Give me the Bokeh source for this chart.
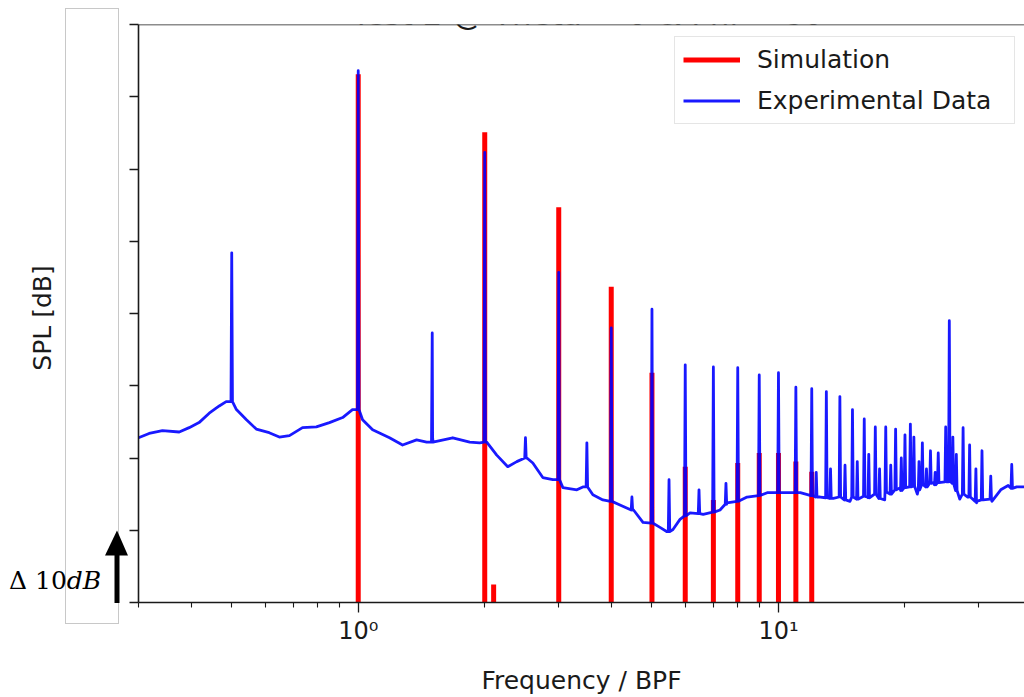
import math
from bokeh.plotting import figure
from bokeh.layouts import row
from bokeh.models import (Range1d, FixedTicker, CustomJSTickFormatter, Label, Span, Legend,
                          LegendItem, Div)
from bokeh.embed import file_html
from bokeh.resources import INLINE

title_text = "Test 2 @ Theta = 0 & Phi = 80"
x_label = "Frequency / BPF"
y_label = "SPL [dB]"
delta_text = "Δ 10"
delta_unit = "dB"
delta_db = 10

exp_base_f = [0.30, 0.318, 0.342, 0.375, 0.396, 0.418, 0.442, 0.467, 0.485, 0.513, 0.542,
              0.572, 0.614, 0.649, 0.686, 0.737, 0.795, 0.854, 0.918, 0.969, 1.024, 1.082,
              1.187, 1.275, 1.377, 1.455, 1.503, 1.678, 1.842, 1.946, 2.022, 2.136, 2.269,
              2.384, 2.52, 2.603, 2.749, 2.905, 3.069, 3.314, 3.424, 3.617, 3.821, 4.196,
              4.52, 4.76, 5.225, 5.43, 5.61, 5.83, 6.16, 6.62, 7.26, 7.54, 8.42, 9.40,
              10.49, 11.27, 12.57, 13.50, 14.8, 16.27, 17.9, 19.5, 21.4, 23.4, 25.7,
              27.0, 28.2, 29.6, 30.7, 32.2, 33.8, 35.2, 36.9, 38.5]
exp_base_db = [62.8, 63.4, 63.8, 63.6, 64.2, 64.9, 66.2, 67.2, 67.8, 66.7, 65.3,
               64.0, 63.5, 62.9, 63.1, 64.2, 64.3, 64.9, 65.6, 66.7, 65.3, 63.9,
               62.8, 61.8, 62.5, 62.2, 62.9, 62.8, 62.2, 62.1, 62.2, 60.4, 58.8,
               59.5, 60.0, 59.3, 57.3, 57.0, 55.9, 55.6, 56.0, 54.9, 54.2, 53.5,
               52.8, 51.1, 50.4, 49.8, 50.1, 51.5, 52.4, 52.2, 52.8, 53.8, 54.6, 55.2,
               55.2, 55.2, 54.6, 54.4, 54.0, 54.6, 54.2, 55.9, 55.0, 56.6, 56.7,
               54.3, 54.6, 53.8, 54.2, 54.0, 55.6, 56.2, 56.0, 56.0]

# Experimental data: tonal peaks (frequency / BPF, peak dB, foot dB)
exp_peak_f = [0.5, 1.0, 1.5, 2.0, 2.5, 3.0, 3.5, 4.0, 4.48, 5.0, 5.49, 6.0, 6.47, 7.0,
              7.5, 8.0, 9.0, 10.0, 11.0, 12.0, 12.3, 13.0, 13.3, 14.0, 14.4, 15.0, 15.4,
              16.0, 16.4, 17.0, 17.4, 18.0, 18.5, 19.0, 19.6, 20.0, 20.6, 21.0, 21.6,
              22.0, 22.5, 23.0, 23.6, 24.0, 25.0, 25.5, 26.0, 26.5, 27.5, 28.5, 29.5,
              30.5, 32.0, 35.9]
exp_peak_db = [88.4, 113.6, 77.3, 102.3, 62.8, 85.7, 62.1, 78.0, 54.6, 80.6, 57.0, 72.9,
               55.6, 72.6, 56.5, 72.5, 71.5, 71.8, 69.8, 69.6, 58.0, 69.2, 58.5, 68.5,
               59.0, 66.7, 59.5, 65.4, 60.5, 64.3, 58.5, 64.3, 59.0, 64.0, 60.0, 63.2,
               64.7, 62.9, 59.5, 62.1, 58.5, 61.0, 58.0, 60.7, 64.3, 79.0, 62.9, 60.5,
               64.2, 61.8, 58.5, 61.0, 57.5, 59.1]
exp_peak_foot_db = [67.8, 66.7, 62.2, 62.2, 60.0, 57.0, 56.0, 54.0, 52.8, 51.0, 49.8, 52.0,
                    52.3, 52.5, 53.6, 54.0, 54.8, 55.2, 55.2, 54.8, 54.6, 54.5, 54.4, 54.6,
                    54.2, 54.6, 54.3, 54.7, 54.5, 55.0, 54.4, 55.3, 55.0, 55.6, 55.5, 55.9,
                    56.0, 56.1, 55.6, 56.3, 56.0, 56.5, 56.3, 56.6, 56.7, 56.7, 56.5, 55.5,
                    55.0, 54.6, 54.0, 54.2, 54.3, 55.8]

# Simulation tones (frequency / BPF, dB)
sim_f = [1.0, 2.0, 2.1, 3.0, 4.0, 5.0, 6.0, 7.0, 8.0, 9.0, 10.0, 11.0, 12.0]
sim_db = [113.1, 105.1, 42.5, 94.7, 83.7, 71.8, 58.8, 54.2, 59.3, 60.7, 60.7, 59.5, 58.1]

x_lims = (0.3, 38.5)
y_lims = (40, 120)
y_ticks = list(range(40, 121, 10))
x_major = [1, 10]
x_minor = [0.3, 0.4, 0.5, 0.6, 0.7, 0.8, 0.9, 2, 3, 4, 5, 6, 7, 8, 9, 20, 30]

H = 697
LW = 128            # width of the left strip (y label, scale bar)
MW = 1024 - LW      # width of the main plot
B_LEFT, B_TOP, B_BOTTOM = 10, 24, 94
frame_h = H - B_TOP - B_BOTTOM
px_per_db = frame_h / (y_lims[1] - y_lims[0])

FONT = "DejaVu Sans"
TXT = "#1a1a1a"
AX = "#1a1a1a"

# ---------------- main plot ----------------
p = figure(width=MW, height=H, x_axis_type="log",
           x_range=Range1d(*x_lims), y_range=Range1d(*y_lims),
           output_backend="svg", toolbar_location=None,
           min_border_left=B_LEFT, min_border_right=0,
           min_border_top=B_TOP, min_border_bottom=B_BOTTOM)
p.grid.visible = False
p.outline_line_color = None
p.background_fill_color = "white"
p.border_fill_color = "white"

n = len(sim_f)
red = p.segment(x0=sim_f, y0=[y_lims[0] - 5] * n, x1=sim_f, y1=sim_db,
                line_color="#ff0000", line_width=5)

pts = list(zip(exp_base_f, exp_base_db))
for f, top, foot in zip(exp_peak_f, exp_peak_db, exp_peak_foot_db):
    pts += [(f * 0.996, foot), (f, top), (f * 1.004, foot)]
pts.sort()
blue = p.line([a for a, b in pts], [b for a, b in pts], line_color="#0000ff",
              line_width=2.8, line_alpha=0.9, line_join="round")

xa = p.xaxis[0]
xa.ticker = FixedTicker(ticks=x_major, minor_ticks=x_minor)
xa.formatter = CustomJSTickFormatter(code="""
const sup = {'-':'⁻','0':'⁰','1':'¹','2':'²','3':'³','4':'⁴','5':'⁵','6':'⁶','7':'⁷','8':'⁸','9':'⁹'};
const e = String(Math.round(Math.log10(tick)));
return '10' + e.split('').map(c => sup[c]).join('');
""")
xa.major_label_text_font = FONT
xa.major_label_text_font_size = "24px"
xa.major_label_text_color = TXT
xa.major_label_standoff = 4
xa.major_tick_out = 10
xa.major_tick_in = 0
xa.minor_tick_out = 5
xa.minor_tick_in = 0
xa.axis_line_color = AX
xa.axis_line_width = 1.6
xa.major_tick_line_color = AX
xa.minor_tick_line_color = AX
xa.major_tick_line_width = 1.3
xa.minor_tick_line_width = 1.1
xa.axis_label = x_label
xa.axis_label_text_font = FONT
xa.axis_label_text_font_size = "25px"
xa.axis_label_text_font_style = "normal"
xa.axis_label_text_color = TXT
xa.axis_label_standoff = 18

ya = p.yaxis[0]
ya.ticker = FixedTicker(ticks=y_ticks, minor_ticks=[])
ya.formatter = CustomJSTickFormatter(code="return '';")
ya.major_label_standoff = 0
ya.major_tick_out = 9
ya.major_tick_in = 0
ya.minor_tick_out = 0
ya.axis_line_color = AX
ya.axis_line_width = 1.6
ya.major_tick_line_color = AX
ya.major_tick_line_width = 1.3

p.add_layout(Span(location=y_lims[1], dimension="width", line_color=AX, line_width=1.6))

legend = Legend(items=[LegendItem(label="Simulation", renderers=[red]),
                       LegendItem(label="Experimental Data", renderers=[blue])],
                location=(536, 478), margin=0, padding=8, spacing=12,
                glyph_width=57, glyph_height=29, label_standoff=17, label_width=249,
                label_text_font=FONT, label_text_font_size="25px", label_text_color=TXT,
                border_line_color="#cccccc", border_line_width=1,
                background_fill_color="white", background_fill_alpha=0.8)
p.add_layout(legend)

# title (cut by the top edge, as in the reference)
p.add_layout(Label(x=449, y=589, x_units="screen", y_units="screen", text=title_text,
                   text_font=FONT, text_font_size="31px", text_color=TXT,
                   text_align="center", text_baseline="alphabetic"))

# ---------------- left strip: y label and 10 dB scale bar ----------------
def page_y(db):
    return B_TOP + (y_lims[1] - db) * px_per_db

bar_bottom = page_y(y_lims[0])
bar_tip = page_y(y_lims[0] + delta_db)
head_len = 25
sans = f"font-family:'DejaVu Sans';font-size:25px;font-style:normal;fill:{TXT};"
serif = "font-family:'DejaVu Serif';font-size:25px;fill:#000000;"
svg = f"""<svg xmlns="http://www.w3.org/2000/svg" width="{LW}" height="{H}" style="display:block">
<rect x="65.5" y="8.5" width="53" height="615" fill="none" stroke="#c8c8c8" stroke-width="1"/>
<line x1="117" y1="{bar_bottom:.1f}" x2="117" y2="{bar_tip + head_len * 0.6:.1f}" stroke="black" stroke-width="5"/>
<polygon points="105,{bar_tip + head_len:.1f} 128,{bar_tip + head_len:.1f} 117,{bar_tip:.1f}" fill="black"/>
<text x="42" y="318" transform="rotate(-90 42 318)" text-anchor="middle" dominant-baseline="central"
 style="{sans}">{y_label}</text>
<text x="9" y="589" style="{serif}font-style:normal;">{delta_text}<tspan style="font-style:italic;">{delta_unit}</tspan></text>
</svg>"""
strip = Div(text=svg, width=LW, height=H, margin=0)

layout = row(strip, p, spacing=0)
open("out.html", "w").write(file_html(layout, INLINE))
